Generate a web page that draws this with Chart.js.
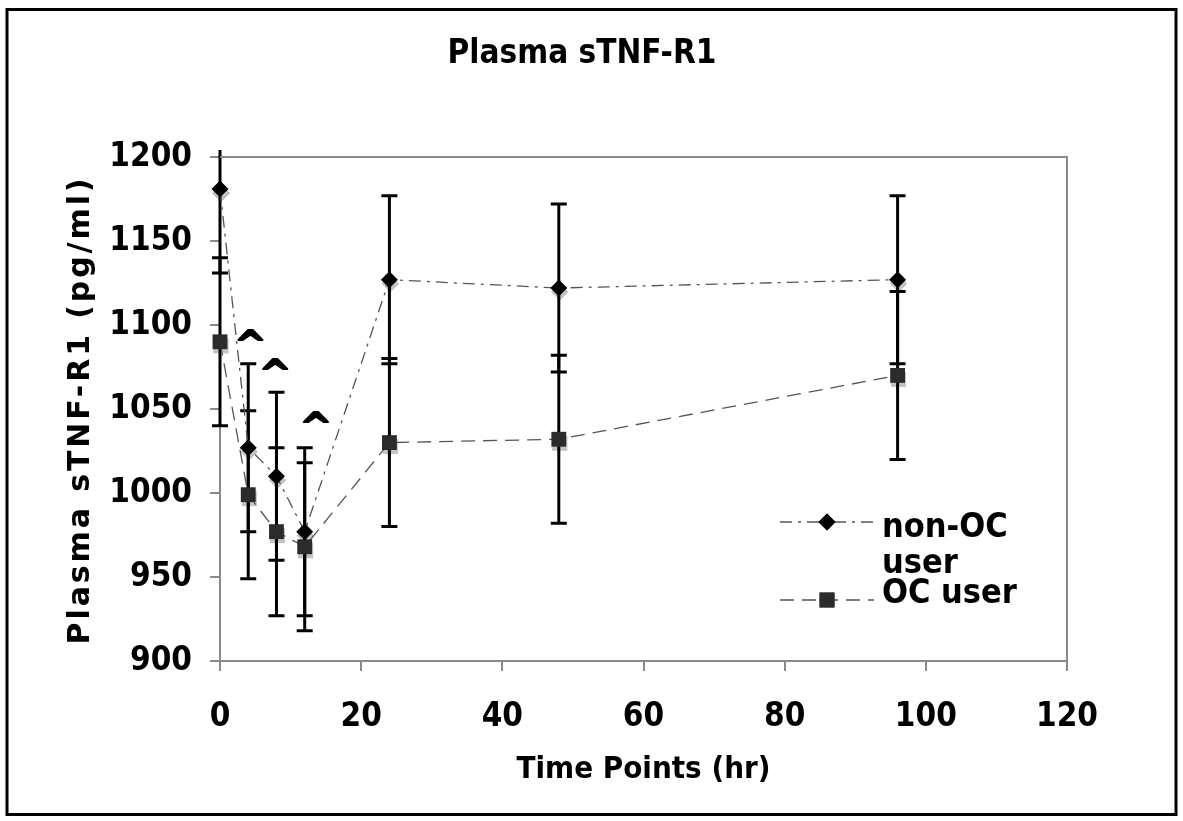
<!DOCTYPE html>
<html>
<head>
<meta charset="utf-8">
<script src="https://cdn.jsdelivr.net/npm/chart.js@4/dist/chart.umd.min.js"></script>
<style>
  html, body { margin: 0; padding: 0; background: #fff; }
  #wrap { width: 1183px; height: 821px; }
</style>
</head>
<body>
<div id="wrap"><canvas id="myChart" width="1183" height="821"></canvas></div>
<script>
// values
let hours = [0, 4, 8, 12, 24, 48, 96];
let non_oc = [1181, 1027, 1010, 977, 1127, 1122, 1127];
let non_oc_err = [50, 50, 50, 50, 50, 50, 50];
let oc = [1090, 999, 977, 968, 1030, 1032, 1070];
let oc_err = [50, 50, 50, 50, 50, 50, 50];

// "^" significance marks (x in hr, y in pg/ml)
let caret_x = [4.3, 7.8, 13.6];
let caret_y = [1094, 1077, 1045];

let x_ticks = [0, 20, 40, 60, 80, 100, 120];
let y_ticks = [900, 950, 1000, 1050, 1100, 1150, 1200];

const FONT = '"DejaVu Sans Condensed", "DejaVu Sans", sans-serif';
const WIDE_FONT = '"DejaVu Sans", sans-serif';
const AXIS_GRAY = '#8a8a8a';

function pairs(xs, ys) {
    return xs.map((x, i) => ({x: x, y: ys[i]}));
}

const errorBars = {
    id: 'errorBars',
    beforeDatasetsDraw(chart) {
        const ctx = chart.ctx;
        const xs = chart.scales.x, ys = chart.scales.y;
        const area = chart.chartArea;

        // soft gray marker shadows
        ctx.save();
        chart.data.datasets.forEach((ds, d) => {
            chart.getDatasetMeta(d).data.forEach(pt => {
                Chart.helpers.drawPoint(ctx, {
                    pointStyle: ds.pointStyle, radius: ds.pointRadius, rotation: 0, borderWidth: 0
                }, pt.x + 1, pt.y + 4);
                ctx.fillStyle = '#c4c4c4';
                ctx.fill();
            });
        });
        ctx.restore();

        const sets = [[non_oc, non_oc_err], [oc, oc_err]];
        ctx.save();
        ctx.beginPath();
        ctx.rect(area.left - 20, area.top - 7, area.right - area.left + 40, area.bottom - area.top + 7);
        ctx.clip();
        ctx.strokeStyle = '#000';
        ctx.lineWidth = 3;
        sets.forEach(([vals, errs]) => {
            vals.forEach((v, i) => {
                const px = xs.getPixelForValue(hours[i]);
                const hi = ys.getPixelForValue(v + errs[i]);
                const lo = ys.getPixelForValue(v - errs[i]);
                ctx.beginPath();
                ctx.moveTo(px, hi); ctx.lineTo(px, lo);
                ctx.moveTo(px - 8, hi); ctx.lineTo(px + 8, hi);
                ctx.moveTo(px - 8, lo); ctx.lineTo(px + 8, lo);
                ctx.stroke();
            });
        });
        ctx.restore();
    }
};

const decorations = {
    id: 'decorations',
    afterDraw(chart) {
        const ctx = chart.ctx;
        const area = chart.chartArea;
        const xs = chart.scales.x, ys = chart.scales.y;
        ctx.save();

        // plot frame top + right
        ctx.strokeStyle = AXIS_GRAY;
        ctx.lineWidth = 2;
        ctx.beginPath();
        ctx.moveTo(area.left, area.top);
        ctx.lineTo(area.right, area.top);
        ctx.lineTo(area.right, area.bottom);
        ctx.stroke();

        // outer border
        ctx.strokeStyle = '#000';
        ctx.lineWidth = 3;
        ctx.strokeRect(7, 9.5, 1169, 805);

        // title
        ctx.fillStyle = '#000';
        ctx.font = 'bold 33px ' + FONT;
        ctx.textAlign = 'center';
        ctx.textBaseline = 'alphabetic';
        ctx.fillText('Plasma sTNF-R1', 582, 63);

        // y axis title, wide spaced like the original
        ctx.save();
        ctx.translate(81, (area.top + area.bottom) / 2 + 1);
        ctx.rotate(-Math.PI / 2);
        ctx.font = 'bold 30px ' + WIDE_FONT;
        const ytxt = 'Plasma sTNF-R1 (pg/ml)';
        const w0 = ctx.measureText(ytxt).width;
        ctx.letterSpacing = ((466 - w0) / (ytxt.length - 1)).toFixed(2) + 'px';
        ctx.textAlign = 'center';
        ctx.textBaseline = 'middle';
        ctx.fillText(ytxt, 0, 0);
        ctx.restore();

        // carets
        ctx.font = 'bold 38px ' + WIDE_FONT;
        ctx.textAlign = 'center';
        ctx.strokeStyle = '#000';
        ctx.lineWidth = 2;
        ctx.lineJoin = 'round';
        const m = ctx.measureText('^');
        const mid = (m.actualBoundingBoxAscent - m.actualBoundingBoxDescent) / 2;
        ctx.textBaseline = 'alphabetic';
        caret_x.forEach((cx, i) => {
            const px = xs.getPixelForValue(cx);
            const py = ys.getPixelForValue(caret_y[i]) + mid;
            ctx.fillText('^', px, py);
            ctx.strokeText('^', px, py);
        });

        // legend
        const items = [
            {ds: chart.data.datasets[0], y: 522, base: 537, lines: ['non-OC', 'user']},
            {ds: chart.data.datasets[1], y: 600, base: 603, lines: ['OC user']}
        ];
        items.forEach(it => {
            ctx.save();
            ctx.strokeStyle = it.ds.borderColor;
            ctx.lineWidth = it.ds.borderWidth;
            ctx.setLineDash(it.ds.borderDash);
            ctx.beginPath();
            ctx.moveTo(780, it.y);
            ctx.lineTo(874, it.y);
            ctx.stroke();
            ctx.restore();
            Chart.helpers.drawPoint(ctx, {
                pointStyle: it.ds.pointStyle,
                radius: it.ds.pointRadius,
                rotation: 0,
                borderWidth: 0
            }, 827, it.y);
            ctx.fillStyle = it.ds.pointBackgroundColor;
            ctx.fill();
            ctx.fillStyle = '#000';
            ctx.font = 'bold 34px ' + FONT;
            ctx.textAlign = 'left';
            ctx.textBaseline = 'alphabetic';
            it.lines.forEach((t, k) => ctx.fillText(t, 882, it.base + k * 36));
        });

        ctx.restore();
    }
};

let config = {
    type: 'line',
    data: {
        datasets: [{
            label: 'non-OC user',
            data: pairs(hours, non_oc),
            borderColor: '#555',
            borderWidth: 1.3,
            borderDash: [12, 6, 3, 6],
            pointStyle: 'rectRot',
            pointRadius: 8.5,
            pointHoverRadius: 8.5,
            pointBackgroundColor: '#000',
            pointBorderColor: '#000',
            pointBorderWidth: 0,
            clip: false,
            tension: 0
        },
        {
            label: 'OC user',
            data: pairs(hours, oc),
            borderColor: '#555',
            borderWidth: 1.3,
            borderDash: [14, 8],
            pointStyle: 'rect',
            pointRadius: 10.5,
            pointHoverRadius: 10.5,
            pointBackgroundColor: '#2b2b2b',
            pointBorderColor: '#2b2b2b',
            pointBorderWidth: 0,
            clip: false,
            tension: 0
        }]
    },
    options: {
        responsive: false,
        animation: false,
        events: [],
        layout: {
            padding: {left: 0, top: 157, right: 116, bottom: 0}
        },
        plugins: {
            legend: {display: false},
            title: {display: false},
            tooltip: {enabled: false}
        },
        scales: {
            x: {
                type: 'linear',
                min: 0,
                max: 120,
                afterFit: s => { s.height = 160; },
                afterBuildTicks: s => { s.ticks = x_ticks.map(v => ({value: v})); },
                grid: {drawOnChartArea: false, color: AXIS_GRAY, lineWidth: 2, tickLength: 10},
                border: {display: true, color: AXIS_GRAY, width: 2},
                ticks: {
                    color: '#000',
                    font: {family: FONT, size: 33, weight: 'bold'},
                    padding: 27,
                    maxRotation: 0,
                    callback: v => String(v)
                },
                title: {
                    display: true,
                    text: 'Time Points (hr)',
                    color: '#000',
                    font: {family: FONT, size: 31, weight: 'bold'},
                    padding: {top: 0, bottom: 32}
                }
            },
            y: {
                type: 'linear',
                min: 900,
                max: 1200,
                afterFit: s => { s.width = 220; },
                afterBuildTicks: s => { s.ticks = y_ticks.map(v => ({value: v})); },
                grid: {drawOnChartArea: false, color: AXIS_GRAY, lineWidth: 2, tickLength: 10},
                border: {display: true, color: AXIS_GRAY, width: 2},
                ticks: {
                    color: '#000',
                    font: {family: FONT, size: 33, weight: 'bold'},
                    padding: 18,
                    callback: v => String(v)
                },
                title: {display: false}
            }
        }
    },
    plugins: [errorBars, decorations]
};

let myChart = new Chart(document.getElementById('myChart'), config);
</script>
</body>
</html>
